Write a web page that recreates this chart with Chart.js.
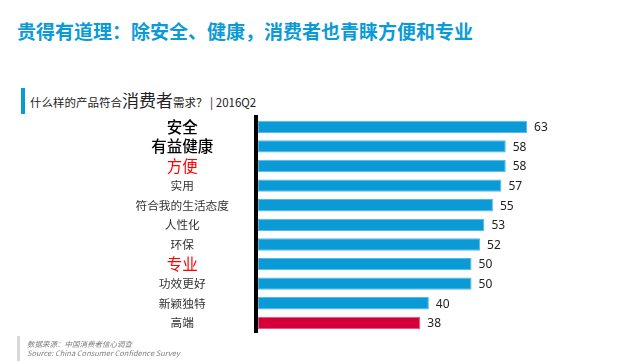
<!DOCTYPE html>
<html>
<head>
<meta charset="utf-8">
<script src="https://cdn.jsdelivr.net/npm/chart.js@4.4.1/dist/chart.umd.min.js"></script>
<style>
    html, body {
        margin: 0;
        padding: 0;
        background: #fff;
    }

    body {
        width: 640px;
        height: 362px;
        position: relative;
        overflow: hidden;
        font-family: 'Noto Sans CJK SC', 'Noto Sans', sans-serif;
    }

    .title {
        position: absolute;
        left: 17px;
        top: 18px;
        font-size: 19px;
        line-height: 26px;
        font-weight: bold;
        color: #0a9bd6;
        white-space: nowrap;
    }

    .sub-bar {
        position: absolute;
        left: 21px;
        top: 88px;
        width: 4px;
        height: 26px;
        background: #0a9bd6;
    }

    .subtitle {
        position: absolute;
        left: 30px;
        top: 88px;
        height: 24px;
        line-height: 24px;
        font-size: 11.5px;
        color: #222;
        white-space: nowrap;
    }

    .subtitle .big {
        font-size: 17px;
    }

    .foot-bar {
        position: absolute;
        left: 17px;
        top: 336px;
        width: 3px;
        height: 25px;
        background: #d9d9d9;
    }

    .footer {
        position: absolute;
        left: 27px;
        top: 339px;
        font-size: 7.5px;
        line-height: 9px;
        font-style: italic;
        color: #808080;
        white-space: nowrap;
    }

    .chart-box {
        position: absolute;
        left: 0;
        top: 110px;
        width: 640px;
        height: 232px;
    }
</style>
</head>
<body>
<div class="title">贵得有道理：除安全、健康，消费者也青睐方便和专业</div>
<div class="sub-bar"></div>
<div class="subtitle">什么样的产品符合<span class="big">消费者</span>需求？ | 2016Q2</div>
<div class="chart-box"><canvas id="chart"></canvas></div>
<div class="foot-bar"></div>
<div class="footer">数据来源：中国消费者信心调查<br>Source: China Consumer Confidence Survey</div>

<script>
const categories = ['安全', '有益健康', '方便', '实用', '符合我的生活态度', '人性化', '环保', '专业', '功效更好', '新颖独特', '高端'];
const values = [63, 58, 58, 57, 55, 53, 52, 50, 50, 40, 38];

// label styling
const bigDark = ['安全', '有益健康'];
const bigRed = ['方便', '专业'];
const highlightBar = '高端';

const valueLabels = {
    id: 'valueLabels',
    afterDatasetsDraw(chart) {
        const ctx = chart.ctx;
        const meta = chart.getDatasetMeta(0);

        ctx.save();
        ctx.font = '12px "Noto Sans", sans-serif';
        ctx.fillStyle = '#222';
        ctx.textAlign = 'left';
        ctx.textBaseline = 'middle';

        meta.data.forEach((bar, i) => {
            ctx.fillText(values[i], bar.x + 7, bar.y + 1);
        });

        ctx.restore();
    },
};

new Chart(document.getElementById('chart').getContext('2d'), {
    type: 'bar',
    data: {
        labels: categories,
        datasets: [
            {
                data: values,
                backgroundColor: categories.map((c) => (c === highlightBar ? '#d5003a' : '#0a9bd6')),
                borderColor: categories.map((c) => (c === highlightBar ? '#e2577a' : '#55b9e6')),
                borderWidth: 1,
                borderSkipped: false,
                barPercentage: 0.63,
                categoryPercentage: 1,
            },
        ],
    },
    options: {
        indexAxis: 'y',
        responsive: true,
        maintainAspectRatio: false,
        animation: false,
        layout: {
            padding: {
                top: 6,
                bottom: 4,
                left: 0,
                right: 83,
            },
        },
        plugins: {
            legend: {
                display: false,
            },
            tooltip: {
                enabled: false,
            },
        },
        scales: {
            x: {
                display: false,
                min: -0.47,
                max: 70,
            },
            y: {
                afterFit: (scale) => {
                    scale.width = 256;
                },
                grid: {
                    display: false,
                    drawTicks: true,
                    tickLength: 27,
                },
                border: {
                    display: true,
                    color: '#000',
                    width: 4,
                },
                ticks: {
                    crossAlign: 'center',
                    padding: 0,
                    autoSkip: false,
                    color: (ctx) => {
                        const name = categories[ctx.index];
                        if (bigRed.includes(name)) {
                            return '#ff0000';
                        }
                        return bigDark.includes(name) ? '#000' : '#333';
                    },
                    font: (ctx) => {
                        const name = categories[ctx.index];
                        const big = bigDark.includes(name) || bigRed.includes(name);
                        return {
                            family: '"Noto Sans CJK SC", sans-serif',
                            size: big ? 15.5 : 11.7,
                            weight: bigDark.includes(name) ? '500' : 'normal',
                        };
                    },
                },
            },
        },
    },
    plugins: [valueLabels],
});
</script>
</body>
</html>
